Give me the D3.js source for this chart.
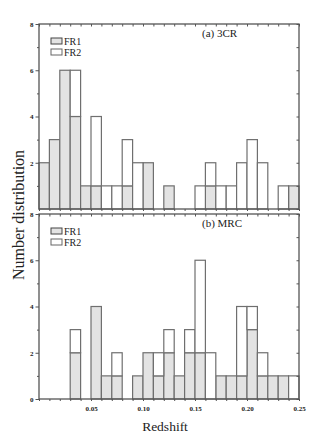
<!DOCTYPE html>
<html>
<head>
<meta charset="utf-8">
<script src="https://cdn.jsdelivr.net/npm/d3@7"></script>
<style>
  body { margin: 0; background: #fff; }
  text { font-family: "Liberation Serif", "Times New Roman", serif; fill: #222; }
  .tick text { font-weight: bold; font-size: 7px; }
</style>
</head>
<body>
<div class="chart"></div>
<script>
// Redshift histograms, bins of 0.01

var binStarts = [0.00, 0.01, 0.02, 0.03, 0.04, 0.05, 0.06, 0.07, 0.08, 0.09,
                 0.10, 0.11, 0.12, 0.13, 0.14, 0.15, 0.16, 0.17, 0.18, 0.19,
                 0.20, 0.21, 0.22, 0.23, 0.24];
var binWidth = 0.01;

var fr1_3CR = [2, 3, 6, 4, 1, 1, 0, 0, 1, 0, 2, 0, 1, 0, 0, 0, 1, 0, 0, 0, 0, 0, 0, 0, 1];
var fr2_3CR = [0, 0, 0, 2, 0, 3, 1, 1, 2, 2, 0, 0, 0, 0, 0, 1, 1, 1, 1, 2, 3, 2, 0, 1, 0];

var fr1_MRC = [0, 0, 0, 2, 0, 4, 1, 1, 0, 1, 2, 1, 2, 1, 2, 2, 0, 1, 1, 1, 3, 1, 1, 1, 0];
var fr2_MRC = [0, 0, 0, 1, 0, 0, 0, 1, 0, 0, 0, 1, 1, 0, 1, 4, 2, 0, 0, 3, 1, 1, 0, 0, 1];

var xTickLabels = [0.05, 0.10, 0.15, 0.20, 0.25];
var yTickLabels = [0, 2, 4, 6, 8];
var yMinor = [1, 3, 5, 7];
var yAll = [0, 1, 2, 3, 4, 5, 6, 7, 8];
var legendLabels = ["FR1", "FR2"];

var svgWidth = 327;
var svgHeight = 447;
var plotLeft = 39, plotRight = 299;

var panels = [
  { title: "(a) 3CR", fr1: fr1_3CR, fr2: fr2_3CR, top: 24, bottom: 209, last: false },
  { title: "(b) MRC", fr1: fr1_MRC, fr2: fr2_MRC, top: 214, bottom: 399, last: true }
];

var frameColor = "#555";
var barStroke = "#6f6f6f";
var grayFill = "#e3e3e3";

var svg = d3.select(".chart")
  .append("svg")
  .attr("width", svgWidth)
  .attr("height", svgHeight);

var x = d3.scaleLinear().domain([0, 0.25]).range([plotLeft, plotRight]);

panels.forEach(function(p) {
  var y = d3.scaleLinear().domain([0, 8]).range([p.bottom, p.top]);
  var g = svg.append("g");

  var bins = binStarts.map(function(b, i) {
    return { x0: b, x1: b + binWidth, fr1: p.fr1[i], fr2: p.fr2[i] };
  });

  // FR1 gray bars
  g.selectAll(".fr1")
    .data(bins.filter(d => d.fr1 > 0))
    .enter().append("rect")
    .attr("x", d => x(d.x0))
    .attr("width", d => x(d.x1) - x(d.x0))
    .attr("y", d => y(d.fr1))
    .attr("height", d => y(0) - y(d.fr1))
    .attr("fill", grayFill)
    .attr("stroke", barStroke)
    .attr("stroke-width", 1.2);

  // FR2 stacked white bars
  g.selectAll(".fr2")
    .data(bins.filter(d => d.fr2 > 0))
    .enter().append("rect")
    .attr("x", d => x(d.x0))
    .attr("width", d => x(d.x1) - x(d.x0))
    .attr("y", d => y(d.fr1 + d.fr2))
    .attr("height", d => y(d.fr1) - y(d.fr1 + d.fr2))
    .attr("fill", "#fff")
    .attr("stroke", barStroke)
    .attr("stroke-width", 1.2);

  // axes
  var edges = binStarts.concat([0.25]);

  var bottomAxis = d3.axisBottom(x)
    .tickValues(edges)
    .tickSize(2)
    .tickPadding(5)
    .tickFormat(function(d) {
      if (!p.last) return "";
      var r = Math.round(d * 100);
      return (r % 5 === 0 && r > 0) ? d3.format(".2f")(d) : "";
    });
  var xAxisG = g.append("g")
    .attr("transform", `translate(0, ${p.bottom})`)
    .call(bottomAxis);

  g.append("g")
    .attr("transform", `translate(0, ${p.top})`)
    .call(d3.axisTop(x).tickValues(edges).tickSize(-2.5).tickFormat(""));

  var leftAxis = d3.axisLeft(y)
    .tickValues(p.last ? yTickLabels : yTickLabels.slice(1))
    .tickSize(3.5)
    .tickPadding(2)
    .tickFormat(d3.format("d"));
  g.append("g")
    .attr("transform", `translate(${plotLeft}, 0)`)
    .call(leftAxis);

  g.append("g")
    .attr("transform", `translate(${plotLeft}, 0)`)
    .call(d3.axisLeft(y).tickValues(yMinor).tickSize(2).tickFormat(""));

  g.append("g")
    .attr("transform", `translate(${plotRight}, 0)`)
    .call(d3.axisRight(y).tickValues(yAll).tickSize(-2.5).tickFormat(""));

  g.selectAll(".domain").remove();
  g.selectAll(".tick line").attr("stroke", frameColor).attr("stroke-width", 1);

  // shift the "0" corner label a little down-left like the original
  xAxisG.selectAll(".tick text").attr("fill", "#222");

  // frame
  g.append("rect")
    .attr("x", plotLeft)
    .attr("y", p.top)
    .attr("width", plotRight - plotLeft)
    .attr("height", p.bottom - p.top)
    .attr("fill", "none")
    .attr("stroke", frameColor)
    .attr("stroke-width", 1.3);

  // panel title
  g.append("text")
    .attr("x", 202)
    .attr("y", p.top + 13)
    .attr("font-size", "11px")
    .text(p.title);

  // legend
  var legend = g.append("g")
    .attr("transform", `translate(51, ${p.top + 14})`);
  legendLabels.forEach(function(lab, i) {
    legend.append("rect")
      .attr("x", 0)
      .attr("y", i * 11)
      .attr("width", 11)
      .attr("height", 6)
      .attr("fill", i === 0 ? grayFill : "#fff")
      .attr("stroke", i === 0 ? "#444" : "#666")
      .attr("stroke-width", 1);
    legend.append("text")
      .attr("x", 13)
      .attr("y", i * 11 + 6.5)
      .attr("font-size", "10px")
      .text(lab);
  });
});

// axis titles
svg.append("text")
  .attr("x", 165)
  .attr("y", 431)
  .attr("text-anchor", "middle")
  .attr("font-size", "13.5px")
  .text("Redshift");

svg.append("text")
  .attr("transform", "translate(24, 215) rotate(-90)")
  .attr("text-anchor", "middle")
  .attr("font-size", "16px")
  .text("Number distribution");
</script>
</body>
</html>
